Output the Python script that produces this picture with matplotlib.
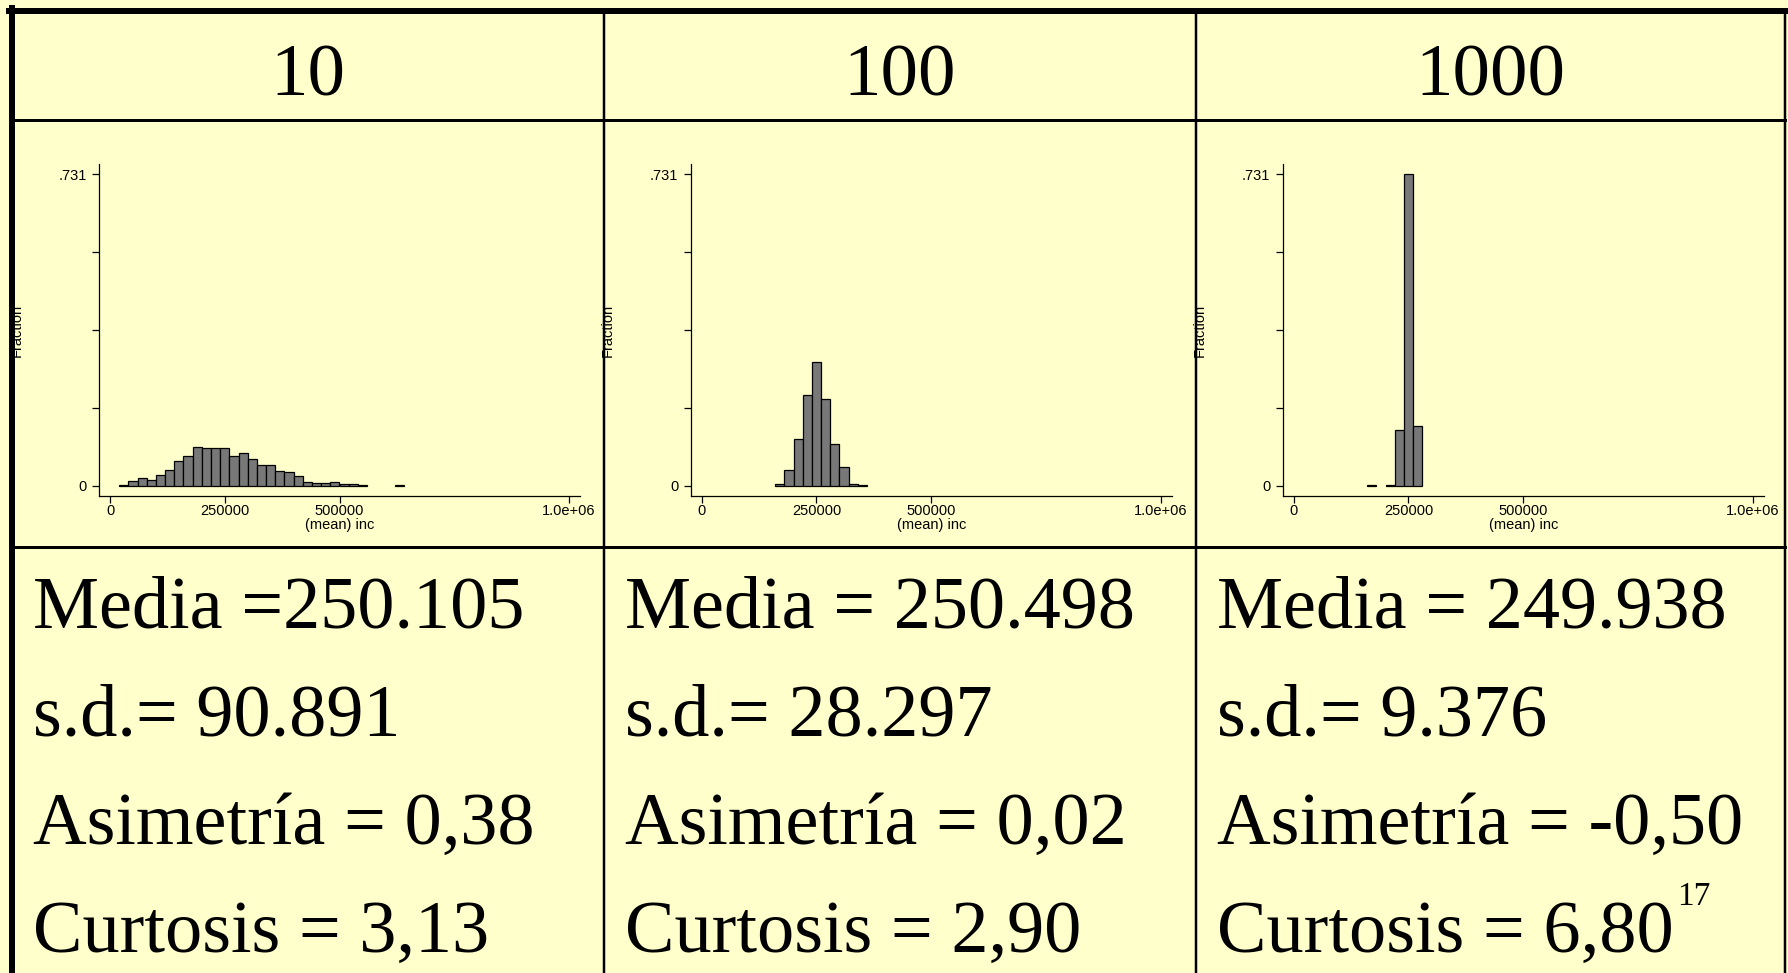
import matplotlib.pyplot as plt
from matplotlib.lines import Line2D

# sample sizes (column headers)
sizes = ['10', '100', '1000']

# histogram of sample means: left edge of each 20000-wide bin and fraction
bins_10 = [20000, 40000, 60000, 80000, 100000, 120000, 140000, 160000, 180000,
           200000, 220000, 240000, 260000, 280000, 300000, 320000, 340000,
           360000, 380000, 400000, 420000, 440000, 460000, 480000, 500000,
           520000, 540000, 620000]
frac_10 = [0.0015, 0.011, 0.017, 0.013, 0.024, 0.037, 0.059, 0.070, 0.090,
           0.088, 0.088, 0.088, 0.070, 0.077, 0.063, 0.049, 0.049,
           0.034, 0.031, 0.023, 0.009, 0.006, 0.006, 0.008, 0.004,
           0.004, 0.0015, 0.0015]

bins_100 = [160000, 180000, 200000, 220000, 240000, 260000, 280000, 300000,
            320000, 340000]
frac_100 = [0.003, 0.036, 0.110, 0.212, 0.290, 0.204, 0.099, 0.043,
            0.005, 0.0012]

bins_1000 = [160000, 200000, 220000, 240000, 260000]
frac_1000 = [0.0012, 0.0012, 0.131, 0.731, 0.139]

# summary statistics under each histogram
stats_10 = ['Media =250.105', 's.d.= 90.891', 'Asimetría = 0,38', 'Curtosis = 3,13']
stats_100 = ['Media = 250.498', 's.d.= 28.297', 'Asimetría = 0,02', 'Curtosis = 2,90']
stats_1000 = ['Media = 249.938', 's.d.= 9.376', 'Asimetría = -0,50', 'Curtosis = 6,80']
page_number = '17'

ymax = 0.731
bin_width = 20000

W, H = 1788, 973
BG = '#ffffcc'
fig = plt.figure(figsize=(W / 100, H / 100), dpi=100, facecolor=BG)


def fx(x):
    return x / W


def fy(y):
    return 1 - y / H


def rule(x0, y0, x1, y1, w):
    fig.add_artist(Line2D([fx(x0), fx(x1)], [fy(y0), fy(y1)],
                          transform=fig.transFigure, color='black',
                          lw=w * 0.72, solid_capstyle='projecting', zorder=10))


panels = [(bins_10, frac_10, stats_10), (bins_100, frac_100, stats_100),
          (bins_1000, frac_1000, stats_1000)]
axis_left = [99, 690.7, 1282.7]
col_left = [12, 604, 1196]
col_right = [604, 1196, 1785]

for i, (bins, frac, stats) in enumerate(panels):
    ax = fig.add_axes([fx(axis_left[i]), fy(496), 481 / W, (496 - 164.3) / H])
    ax.set_facecolor('none')
    ax.bar(bins, frac, width=bin_width, align='edge', color='#787878',
           edgecolor='black', linewidth=0.9)
    ax.set_xlim(-24000, 1024000)
    ax.set_ylim(-0.0242, 0.7545)
    for s in ['top', 'right']:
        ax.spines[s].set_visible(False)
    for s in ['left', 'bottom']:
        ax.spines[s].set_linewidth(0.9)
    ax.set_xticks([0, 250000, 500000, 1000000])
    ax.set_xticklabels(['0', '250000', '500000', '1.0e+06'])
    ax.set_yticks([0, ymax / 4, ymax / 2, 3 * ymax / 4, ymax])
    ax.set_yticklabels(['0', '', '', '', '.731'])
    ax.tick_params(direction='out', length=5, width=0.9, pad=0.5,
                   labelsize=10.5, labelfontfamily='Liberation Sans')
    ax.tick_params(axis='y', pad=4)
    ax.set_xlabel('(mean) inc', fontsize=10.5, family='Liberation Sans', labelpad=0)
    ax.set_ylabel('Fraction', fontsize=10.5, family='Liberation Sans')
    ax.yaxis.set_label_coords(-0.157, 0.5)

    fig.text(fx((col_left[i] + col_right[i]) / 2), fy(96), sizes[i],
             ha='center', va='baseline', fontsize=54, family='Liberation Serif')
    for line, base in zip(stats, [628, 735, 844, 952]):
        fig.text(fx(col_left[i] + 21), fy(base), line, ha='left', va='baseline',
                 fontsize=53.5, family='Liberation Serif')

fig.text(fx(1677), fy(905), page_number, ha='left', va='baseline',
         fontsize=24, family='Liberation Serif')

# table rules
rule(9, 11, 1786, 11, 6)
rule(12, 8, 12, 973, 6)
rule(1785, 11, 1785, 973, 2.5)
rule(604, 11, 604, 973, 2.5)
rule(1196, 11, 1196, 973, 2.5)
rule(12, 119.5, 1785, 119.5, 3)
rule(12, 547, 1785, 547, 3)

fig.savefig('out.png', dpi=100, facecolor=BG)
